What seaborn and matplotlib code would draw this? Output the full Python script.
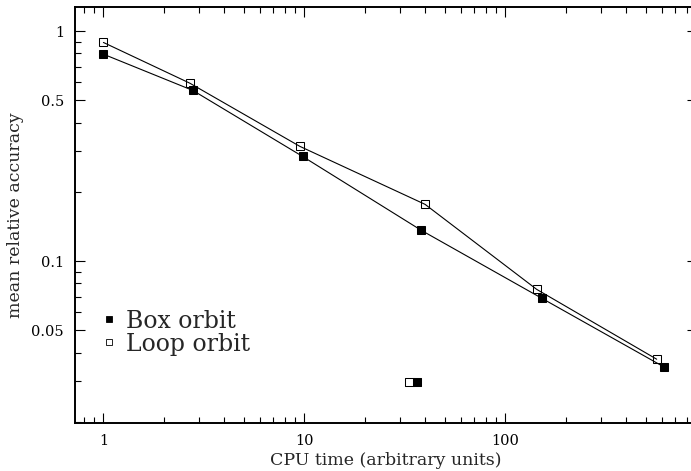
import matplotlib
matplotlib.use("Agg")
import matplotlib.pyplot as plt
from matplotlib.lines import Line2D
import pandas as pd
import seaborn as sns

# Accuracy versus cost for the two orbit families
box_cpu = [1.0, 2.79, 9.81, 38.2, 151.8, 620.0]
box_acc = [0.794, 0.552, 0.285, 0.136, 0.0689, 0.0345]
loop_cpu = [1.0, 2.69, 9.49, 39.9, 143.3, 567.0]
loop_acc = [0.893, 0.594, 0.3155, 0.1764, 0.0753, 0.0374]

# Single extra runs, plotted without connecting lines
box_extra_cpu = [36.3]
box_extra_acc = [0.0298]
loop_extra_cpu = [33.4]
loop_extra_acc = [0.0298]

series_labels = ["Box orbit", "Loop orbit"]
x_major = [1, 10, 100]
x_major_labels = ["1", "10", "100"]
y_major = [0.05, 0.1, 0.5, 1]
y_major_labels = ["0.05", "0.1", "0.5", "1"]

sns.set_style("ticks")
plt.rcParams["font.family"] = ["DejaVu Serif"]

box_df = pd.DataFrame({"cpu": box_cpu, "acc": box_acc})
loop_df = pd.DataFrame({"cpu": loop_cpu, "acc": loop_acc})
box_extra = pd.DataFrame({"cpu": box_extra_cpu, "acc": box_extra_acc})
loop_extra = pd.DataFrame({"cpu": loop_extra_cpu, "acc": loop_extra_acc})

W, H = 691, 471
fig = plt.figure(figsize=(W / 100, H / 100), dpi=100)
ax = fig.add_axes([75 / W, 1 - 422.7 / H, (697 - 75) / W, (422.7 - 7.3) / H])

line_kw = dict(color="black", linewidth=0.8, marker="s", markersize=6.0,
               markeredgecolor="black", markeredgewidth=0.75, sort=False,
               estimator=None, legend=False)
sns.lineplot(data=box_df, x="cpu", y="acc", ax=ax, markerfacecolor="black", **line_kw)
sns.lineplot(data=loop_df, x="cpu", y="acc", ax=ax, markerfacecolor="none", **line_kw)

pt_kw = dict(marker="s", s=38, linewidth=0.75, edgecolor="black", legend=False)
sns.scatterplot(data=box_extra, x="cpu", y="acc", ax=ax, facecolor="black", **pt_kw)
sns.scatterplot(data=loop_extra, x="cpu", y="acc", ax=ax, facecolor="none", **pt_kw)

ax.set_xscale("log")
ax.set_yscale("log")
ax.set_xlim(0.722, 781)
ax.set_ylim(0.0198, 1.27)

x_minor = [0.8, 0.9] + [d * m for d in (1, 10, 100) for m in range(2, 10)]
y_minor = [d * m for d in (0.01, 0.1) for m in range(2, 10) if abs(d * m - 0.5) > 1e-9
           and abs(d * m - 0.05) > 1e-9]
ax.set_xticks(x_major, x_major_labels)
ax.set_xticks(x_minor, minor=True)
ax.set_yticks(y_major, y_major_labels)
ax.set_yticks(y_minor, minor=True)
ax.set_xticklabels([], minor=True)
ax.set_yticklabels([], minor=True)

ax.tick_params(which="both", direction="in", top=True, right=True,
               color="black", width=0.8, labelsize=10.5, pad=8, labelcolor="black")
ax.tick_params(which="major", length=7.2)
ax.tick_params(which="minor", length=4.2)
for sp in ax.spines.values():
    sp.set_linewidth(1.4)
    sp.set_color("black")

ax.set_xlabel("CPU time (arbitrary units)", fontsize=12.5)
ax.set_ylabel("mean relative accuracy", fontsize=12.5)
ax.xaxis.set_label_coords(0.5, -0.071)
ax.yaxis.set_label_coords(-0.082, 0.5)

handles = [
    Line2D([], [], marker="s", linestyle="none", markersize=3.8,
           markerfacecolor="black", markeredgecolor="black", markeredgewidth=0.6),
    Line2D([], [], marker="s", linestyle="none", markersize=3.8,
           markerfacecolor="none", markeredgecolor="black", markeredgewidth=0.6),
]
ax.legend(handles, series_labels, loc="upper left", bbox_to_anchor=(0.0402, 0.272),
          frameon=False, fontsize=17, handlelength=0.8, handletextpad=0.28,
          borderpad=0, borderaxespad=0, labelspacing=0.0)

fig.savefig("out.png", dpi=100)
